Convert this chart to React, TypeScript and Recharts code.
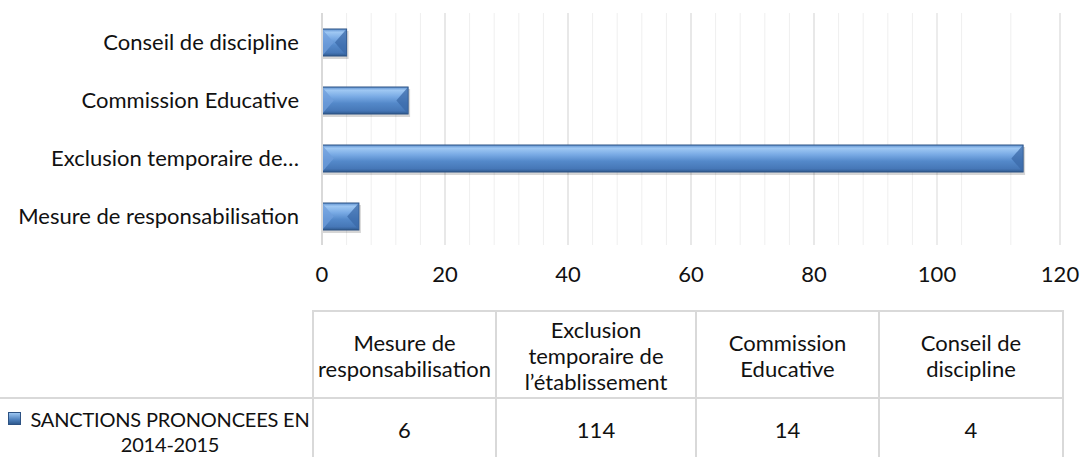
import { BarChart, Bar, XAxis, YAxis, CartesianGrid } from "recharts";

const CATEGORIES = [
  "Mesure de responsabilisation",
  "Exclusion temporaire de l’établissement",
  "Commission Educative",
  "Conseil de discipline",
];
const SERIES_NAME = "SANCTIONS PRONONCEES EN 2014-2015";
const VALUES = [6, 114, 14, 4];
const X_TICKS = [0, 20, 40, 60, 80, 100, 120];
const MINOR_GRID = [0, 4, 8, 12, 16, 20, 24, 28, 32, 36, 40, 44, 48, 52, 56, 60, 64, 68, 72, 76, 80, 84, 88, 92, 96, 100, 104, 108, 112, 116, 120];

const FONT = "Lato, 'Noto Sans', sans-serif";
const FS = 22;
const TEXT = "#111";
const BORDER = "2px solid #d9d9d9";
const COL_W = [183, 200, 183, 184];
const TABLE_X = 312;

const data = CATEGORIES.map((name, i) => ({ name, value: VALUES[i] }));

const shortLabel = (s: string) => (s.length > 28 ? s.slice(0, 23) + "…" : s);

// legend text wraps before the last word, like the reference
const cut = SERIES_NAME.lastIndexOf(" ");
const legendLines = [SERIES_NAME.slice(0, cut), SERIES_NAME.slice(cut + 1)];

function BevelBar(props: any) {
  const { x, y, width, height } = props;
  if (!width || width <= 0) return null;
  const b = Math.min(height / 2.3, width / 2);
  return (
    <g>
      <rect x={x + 1} y={y + 2} width={width + 1} height={height + 1} fill="rgba(0,0,0,0.16)" />
      <rect x={x} y={y} width={width} height={height} fill="url(#barFill)" stroke="#2d5283" strokeWidth={1} />
      <polygon points={`${x},${y} ${x + b},${y + height / 2} ${x},${y + height}`} fill="#6f9edb" opacity={0.75} />
      <polygon
        points={`${x + width},${y} ${x + width - b},${y + height / 2} ${x + width},${y + height}`}
        fill="#3b6aa8"
        opacity={0.75}
      />
    </g>
  );
}

export default function App() {
  let acc = TABLE_X;
  const lefts = COL_W.map((w) => {
    const l = acc;
    acc += w;
    return l;
  });
  return (
    <div
      style={{
        position: "absolute",
        left: 0,
        top: 0,
        width: 1080,
        height: 457,
        background: "#fff",
        overflow: "hidden",
        fontFamily: FONT,
        color: TEXT,
      }}
    >
      <BarChart
        width={1080}
        height={300}
        data={data}
        layout="vertical"
        margin={{ top: 13, right: 20, bottom: 0, left: 0 }}
      >
        <defs>
          <linearGradient id="barFill" x1="0" y1="0" x2="0" y2="1">
            <stop offset="0%" stopColor="#5d8fcf" />
            <stop offset="12%" stopColor="#9fc8f3" />
            <stop offset="35%" stopColor="#7aabe5" />
            <stop offset="60%" stopColor="#5489ca" />
            <stop offset="88%" stopColor="#4677b7" />
            <stop offset="100%" stopColor="#2f5a8f" />
          </linearGradient>
        </defs>
        <CartesianGrid horizontal={false} verticalValues={MINOR_GRID} stroke="#efefef" />
        <CartesianGrid horizontal={false} verticalValues={X_TICKS} stroke="#d9d9d9" />
        <XAxis
          type="number"
          domain={[0, 120]}
          ticks={X_TICKS}
          axisLine={false}
          tickLine={false}
          tickSize={0}
          tickMargin={21}
          height={55}
          tick={{ fontSize: FS, fill: TEXT, fontFamily: FONT }}
        />
        <YAxis
          type="category"
          dataKey="name"
          reversed
          width={322}
          axisLine={{ stroke: "#d9d9d9", strokeWidth: 2 }}
          tickLine={false}
          tickSize={0}
          tickMargin={23}
          tickFormatter={shortLabel}
          tick={{ fontSize: FS, fill: TEXT, fontFamily: FONT }}
          interval={0}
        />
        <Bar dataKey="value" barSize={27} shape={BevelBar} isAnimationActive={false} />
      </BarChart>

      {CATEGORIES.map((c, i) => (
        <div
          key={"h" + i}
          style={{
            position: "absolute",
            left: lefts[i],
            top: 310,
            width: COL_W[i] + (i === COL_W.length - 1 ? 2 : 0),
            height: 89,
            boxSizing: "border-box",
            borderTop: BORDER,
            borderLeft: BORDER,
            borderRight: i === COL_W.length - 1 ? BORDER : undefined,
            display: "flex",
            alignItems: "center",
            justifyContent: "center",
            textAlign: "center",
            fontSize: FS,
            lineHeight: "26px",
            padding: "0 2px",
          }}
        >
          {c}
        </div>
      ))}

      <div
        style={{
          position: "absolute",
          left: 0,
          top: 397,
          width: TABLE_X,
          height: 60,
          boxSizing: "border-box",
          borderTop: BORDER,
        }}
      />
      <div
        style={{
          position: "absolute",
          left: 8,
          top: 412,
          width: 13,
          height: 13,
          background: "linear-gradient(#9cc6f2, #4f81bd 60%, #2f5a8f)",
          border: "1px solid #2d5283",
          boxSizing: "border-box",
        }}
      />
      <div
        style={{
          position: "absolute",
          left: 22,
          top: 407,
          width: 296,
          textAlign: "center",
          fontSize: 20,
          letterSpacing: -0.2,
          lineHeight: "25px",
          whiteSpace: "nowrap",
        }}
      >
        {legendLines.map((l, i) => (
          <div key={i}>{l}</div>
        ))}
      </div>

      {VALUES.map((v, i) => (
        <div
          key={"v" + i}
          style={{
            position: "absolute",
            left: lefts[i],
            top: 397,
            width: COL_W[i] + (i === COL_W.length - 1 ? 2 : 0),
            height: 62,
            boxSizing: "border-box",
            borderTop: BORDER,
            borderLeft: BORDER,
            borderRight: i === COL_W.length - 1 ? BORDER : undefined,
            display: "flex",
            alignItems: "center",
            justifyContent: "center",
            fontSize: FS,
          }}
        >
          {v}
        </div>
      ))}
    </div>
  );
}
